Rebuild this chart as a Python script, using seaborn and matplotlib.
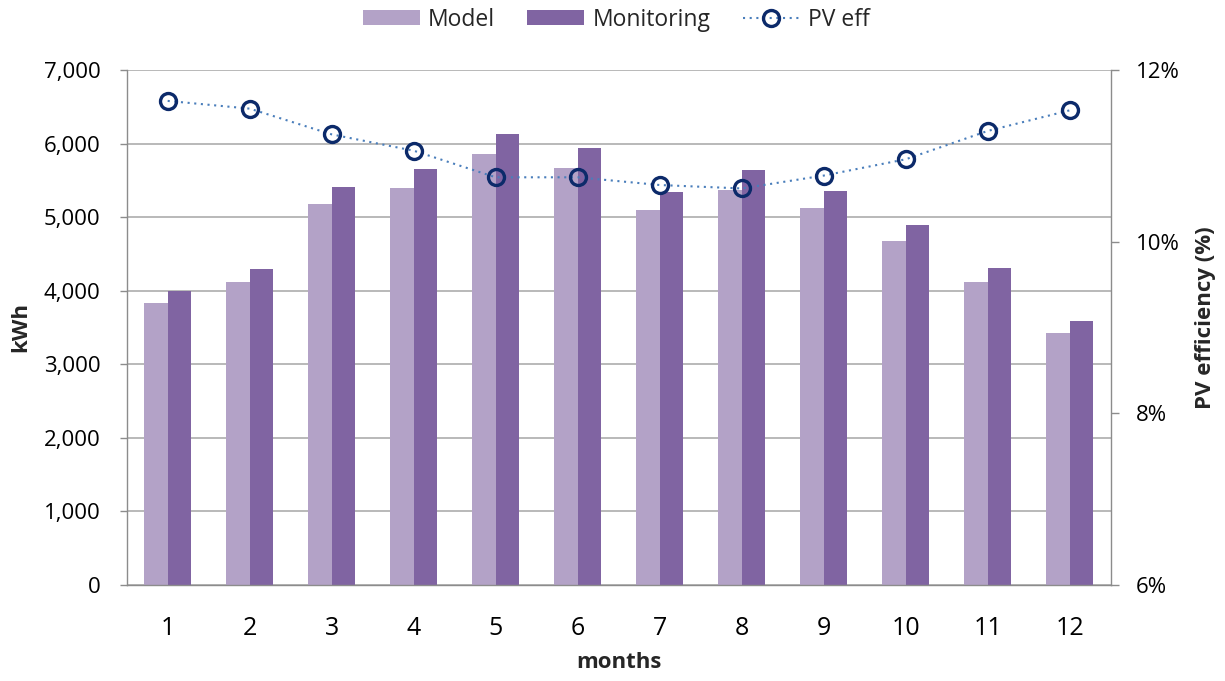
import numpy as np
import pandas as pd
import matplotlib
matplotlib.use("Agg")
import matplotlib.pyplot as plt
from matplotlib.ticker import FuncFormatter, MultipleLocator, FixedLocator
import seaborn as sns

# Monthly PV yield (kWh) and PV efficiency (%)
months = [str(m) for m in range(1, 13)]
model_kwh = [3830, 4120, 5180, 5400, 5860, 5665, 5100, 5375, 5120, 4675, 4120, 3430]
monitoring_kwh = [4000, 4300, 5405, 5650, 6135, 5935, 5345, 5635, 5360, 4895, 4305, 3585]
pv_eff = [11.64, 11.55, 11.25, 11.06, 10.75, 10.75, 10.66, 10.62, 10.77, 10.96, 11.29, 11.53]

series_names = ["Model", "Monitoring"]
bar_colors = ["#B3A2C7", "#8064A2"]
line_color = "#4A7EBB"
marker_edge = "#0C2A6A"
grid_color = "#A6A6A6"
axis_color = "#8C8C8C"

sns.set_theme(style="white")
plt.rcParams["font.family"] = ["Open Sans", "DejaVu Sans"]
plt.rcParams["font.size"] = 16

df = pd.DataFrame({
    "month": months * 2,
    "kwh": model_kwh + monitoring_kwh,
    "series": [series_names[0]] * 12 + [series_names[1]] * 12,
})

fig = plt.figure(figsize=(12.25, 6.81), dpi=100)
ax = fig.add_axes([0.1034, 0.1410, 0.9067 - 0.1034, 0.8972 - 0.1410])

sns.barplot(data=df, x="month", y="kwh", hue="series", order=months,
            hue_order=series_names, palette=bar_colors, width=0.574,
            gap=0, saturation=1, edgecolor="none", ax=ax, legend=True)

ax.set_xlim(-0.5, 11.5)
ax.set_ylim(0, 7000)
ax.yaxis.set_major_locator(MultipleLocator(1000))
ax.yaxis.set_major_formatter(FuncFormatter(lambda v, p: f"{int(v):,}"))
ax.grid(axis="y", color=grid_color, linewidth=1.1)
ax.set_axisbelow(True)

# Category boundaries carry the tick marks; labels sit at the centres
ax.xaxis.set_minor_locator(FixedLocator(np.arange(-0.5, 12, 1.0)))
ax.tick_params(axis="x", which="major", length=0, pad=22, labelsize=18, colors="black")
ax.tick_params(axis="x", which="minor", length=7.5, width=1, color=axis_color, direction="out")
ax.tick_params(axis="y", which="major", left=True, length=5, width=1, color=axis_color,
               pad=14, labelsize=16, labelcolor="black", direction="out")

for side in ["left", "bottom"]:
    ax.spines[side].set_color(axis_color)
    ax.spines[side].set_linewidth(1)
ax.spines["top"].set_visible(False)
ax.spines["right"].set_visible(False)

ax.set_xlabel("months", fontsize=16, fontweight="bold")
ax.set_ylabel("kWh", fontsize=16, fontweight="bold")
ax.xaxis.set_label_coords(0.5, -0.13)
ax.yaxis.set_label_coords(-0.097, 0.5)

# Secondary axis: PV efficiency
ax2 = ax.twinx()
sns.lineplot(x=np.arange(12), y=pv_eff, ax=ax2, color=line_color,
             linewidth=1.5, linestyle=(0, (1, 2.2)), marker="o", markersize=11.5,
             markerfacecolor="none", markeredgecolor=marker_edge,
             markeredgewidth=2.4, label="PV eff", legend=False)
ax2.set_ylim(6, 12)
ax2.yaxis.set_major_locator(MultipleLocator(2))
ax2.yaxis.set_major_formatter(FuncFormatter(lambda v, p: f"{v:.0f}%"))
ax2.tick_params(axis="y", right=True, length=6, width=1, color=axis_color,
                pad=12, labelsize=16, labelcolor="black", direction="out")
ax2.grid(False)
ax2.spines["right"].set_color(axis_color)
ax2.spines["right"].set_linewidth(1)
for side in ["left", "top", "bottom"]:
    ax2.spines[side].set_visible(False)
ax2.set_ylabel("PV efficiency (%)", fontsize=16, fontweight="bold")
ax2.yaxis.set_label_coords(1.0857, 0.52)

# Combined legend above the plot
h1, l1 = ax.get_legend_handles_labels()
h2, l2 = ax2.get_legend_handles_labels()
ax.get_legend().remove()
fig.legend(h1 + h2, l1 + l2, loc="center", bbox_to_anchor=(0.503, 0.971), ncol=3,
           frameon=False, fontsize=16.5, handlelength=2.5, handleheight=0.65,
           handletextpad=0.35, columnspacing=1.4, numpoints=1)

fig.savefig("out.png", dpi=100)
